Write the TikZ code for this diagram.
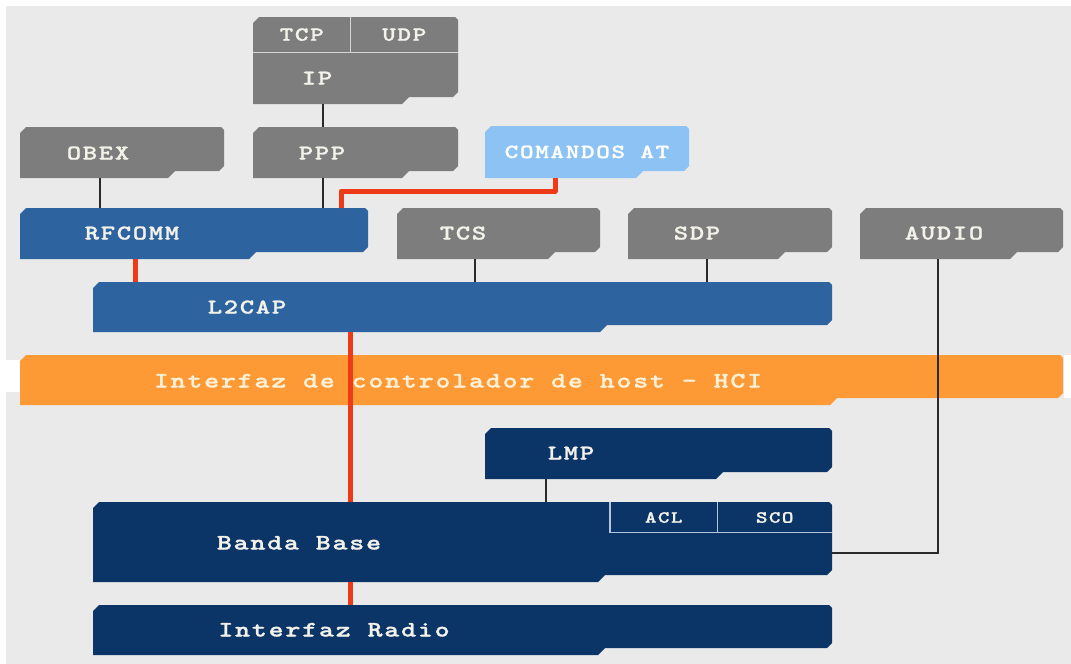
\documentclass[tikz,border=0pt]{standalone}
\usepackage{fontspec}
\newfontfamily\labfont[FakeStretch=1.3, FakeBold=1.2, LetterSpace=8]{lmmonolt10-bold.otf}

\definecolor{pagegray}{HTML}{EAEAEA}
\definecolor{boxgray}{HTML}{7D7D7D}
\definecolor{midblue}{HTML}{2D639F}
\definecolor{navy}{HTML}{0B3467}
\definecolor{hciorange}{HTML}{FD9A35}
\definecolor{atblue}{HTML}{8DC3F4}
\definecolor{linkred}{HTML}{EE3A18}
\definecolor{linedark}{HTML}{2A2A2A}
\definecolor{labtext}{HTML}{F3F2EA}
\definecolor{hcitext}{HTML}{FFF1D8}
\definecolor{subline}{HTML}{B4C6DE}
\definecolor{tcpline}{HTML}{D6D6D6}

\tikzset{
  lbl/.style={inner sep=0pt, text height=13pt, text depth=0pt, text=labtext,
    font=\labfont\fontsize{21}{21}\selectfont},
  biglbl/.style={lbl, font=\labfont\fontsize{22}{22}\selectfont},
  smalllbl/.style={lbl, text height=12pt, font=\labfont\fontsize{20}{20}\selectfont},
  subbox/.style={inner sep=0pt, anchor=north west, text=labtext, text height=11pt, text depth=0pt,
    font=\labfont\fontsize{17}{17}\selectfont},
  anchorbox/.style={inner sep=0pt, outer sep=0pt, anchor=north west, draw=none},
  conn/.style={draw=linedark, line width=2pt},
  redlink/.style={draw=linkred, line width=5pt, line join=round},
}

% layer block: name, x0, y0, x1, y1, x of the bottom step, fill colour
\newcommand\layerbox[7]{%
  \fill[#7] (#2,#3+6) -- (#2+6,#3) -- (#4-3,#3) -- (#4,#3+3) -- (#4,#5-12)
    -- (#4-5,#5-7) -- (#6+7,#5-7) -- (#6,#5) -- (#2,#5) -- cycle;
  \node[anchorbox, minimum width={(#4-#2)*1pt}, minimum height={(#5-#3)*1pt}] (#1) at (#2,#3) {};
}

\begin{document}
\begin{tikzpicture}[x=1pt,y=-1pt]
\useasboundingbox (0,0) rectangle (1071,664);
\fill[white] (0,0) rectangle (1071,664);
\fill[pagegray] (6,6) rectangle (1071,664);
\fill[white] (6,360) rectangle (20,392);
\fill[white] (1064,355) rectangle (1071,398);

% protocol blocks
\layerbox{tcpip}{253}{17}{458}{104}{402}{boxgray}
\layerbox{obex}{20}{127}{224}{178}{168}{boxgray}
\layerbox{ppp}{253}{127}{458}{178}{402}{boxgray}
\layerbox{at}{485}{126}{689}{178}{636}{atblue}
\layerbox{rfcomm}{20}{208}{368}{259}{249}{midblue}
\layerbox{tcs}{397}{208}{600}{259}{548}{boxgray}
\layerbox{sdp}{628}{208}{832}{259}{778}{boxgray}
\layerbox{audio}{860}{208}{1063}{259}{1010}{boxgray}
\layerbox{l2cap}{93}{282}{832}{332}{600}{midblue}
\layerbox{hci}{20}{355}{1063}{405}{830}{hciorange}
\layerbox{lmp}{485}{428}{832}{479}{716}{navy}
\layerbox{banda}{93}{502}{832}{582}{598}{navy}
\layerbox{radio}{93}{605}{832}{655}{598}{navy}

% TCP / UDP cells on top of IP
\node[subbox, minimum width=97pt, minimum height=35pt, font=\labfont\fontsize{20}{20}\selectfont, text height=12pt] (tcp) at (253,17) {TCP};
\node[subbox, minimum width=108pt, minimum height=35pt, font=\labfont\fontsize{20}{20}\selectfont, text height=12pt] (udp) at (350,17) {UDP};
\draw[tcpline, line width=1.5pt] (tcp.south west) -- (udp.south east);
\draw[tcpline, line width=1.5pt] (tcp.north east) -- (tcp.south east);

% ACL / SCO cells inside the baseband block
\node[subbox, minimum width=107pt, minimum height=30pt] (acl) at (610,502) {ACL};
\node[subbox, minimum width=115pt, minimum height=30pt] (sco) at (717,502) {SCO};
\draw[subline, line width=1.5pt] (acl.north west) -- (acl.south west) -- (sco.south east);
\draw[subline, line width=1.5pt] (acl.north east) -- (acl.south east);

% black links
\draw[conn] ([xshift=70pt]tcpip.south west) -- ([xshift=70pt]ppp.north west);
\draw[conn] ([xshift=80pt]obex.south west) -- ([xshift=80pt]rfcomm.north west);
\draw[conn] ([xshift=70pt]ppp.south west) -- ([xshift=303pt]rfcomm.north west);
\draw[conn] ([xshift=78pt]tcs.south west) -- ([xshift=382pt]l2cap.north west);
\draw[conn] ([xshift=79pt]sdp.south west) -- ([xshift=614pt]l2cap.north west);
\draw[conn] ([xshift=61pt]lmp.south west) -- ([xshift=453pt]banda.north west);
\draw[conn] ([xshift=78pt]audio.south west) |- ([yshift=-11pt]banda.east);

% red data path
\draw[redlink] ([xshift=70pt]at.south west) -- ++(0,13) -| ([xshift=321pt]rfcomm.north west);
\draw[redlink] ([xshift=115pt]rfcomm.south west) -- ([xshift=42pt]l2cap.north west);
\draw[redlink] ([xshift=257pt]l2cap.south west) -- ([xshift=257pt]banda.north west);
\draw[redlink] ([xshift=257pt]banda.south west) -- ([xshift=257pt]radio.north west);

% labels
\node[lbl] (ip-label) at (317,78) {IP};
\node[lbl] (obex-label) at (98,153) {OBEX};
\node[lbl] (ppp-label) at (322,153) {PPP};
\node[smalllbl, text=white] (at-label) at (587,152) {COMANDOS AT};
\node[lbl] (rfcomm-label) at (132,233) {RFCOMM};
\node[lbl] (tcs-label) at (463,233) {TCS};
\node[lbl] (sdp-label) at (697,233) {SDP};
\node[lbl] (audio-label) at (944,233) {AUDIO};
\node[lbl] (l2cap-label) at (247,307) {L2CAP};
\node[biglbl, text=hcitext] (hci-label) at (458,381) {Interfaz de controlador de host - HCI};
\node[lbl] (lmp-label) at (571,453) {LMP};
\node[biglbl] (banda-label) at (299,543) {Banda Base};
\node[biglbl] (radio-label) at (334,630) {Interfaz Radio};
\end{tikzpicture}
\end{document}
